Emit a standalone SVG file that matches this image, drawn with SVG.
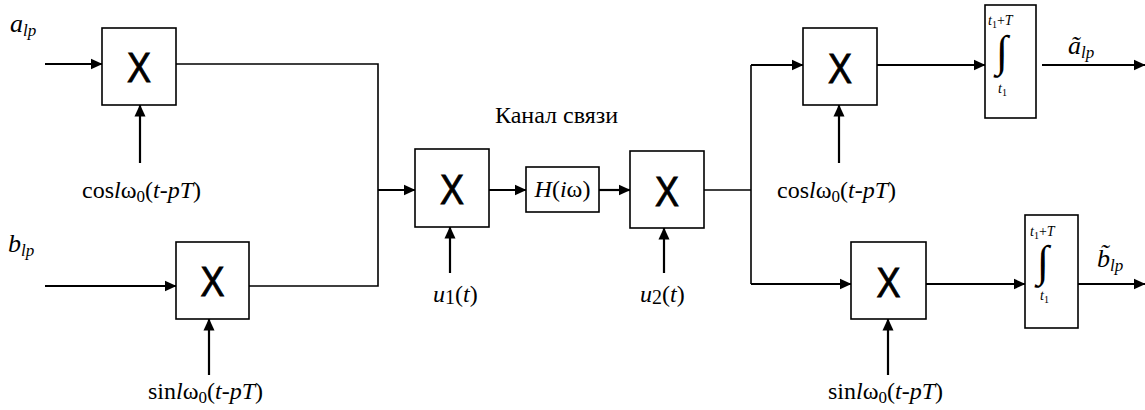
<svg xmlns="http://www.w3.org/2000/svg" width="1145" height="410" viewBox="0 0 1145 410">
<style>
.box{fill:#fff;stroke:#000;stroke-width:1.6}
.ln{fill:none;stroke:#000;stroke-width:1.6}
.ar{fill:none;stroke:#000;stroke-width:2.2;marker-end:url(#ah)}
.x{font-family:'Liberation Sans','DejaVu Sans',sans-serif;font-size:42px;text-anchor:middle;fill:#000;stroke:#000;stroke-width:0.9}
.t{font-family:'Liberation Serif','DejaVu Serif',serif;font-size:24px;fill:#000}
.lb{font-family:'Liberation Serif','DejaVu Serif',serif;font-size:26px;font-style:italic}
.i{font-style:italic}
.s{font-family:'Liberation Serif','DejaVu Serif',serif;font-size:14px}
.sub{font-size:17px}
.int{font-family:'Liberation Serif','DejaVu Serif',serif;font-size:44px;text-anchor:middle}
</style>
<defs>
<marker id="ah" viewBox="0 0 12 12" refX="11.5" refY="6" markerWidth="12" markerHeight="12" markerUnits="userSpaceOnUse" orient="auto">
<path d="M0,0.5 L12,6 L0,11.5 Z" fill="#000"/>
</marker>
</defs>
<rect width="1145" height="410" fill="#fff"/>
<g id="connectors">
<path class="ar" d="M45,64 H102"/>
<path class="ln" d="M176,64 H378 V286 H249"/>
<path class="ar" d="M378,190 H415"/>
<path class="ar" d="M140,163 V105"/>
<path class="ar" d="M45,286 H176"/>
<path class="ar" d="M209,375 V319"/>
<path class="ar" d="M489,190 H526"/>
<path class="ar" d="M599,190 H630"/>
<path class="ar" d="M450,273 V227"/>
<path class="ar" d="M664,273 V228"/>
<path class="ln" d="M704,190 H751"/>
<path class="ln" d="M751,65 V284"/>
<path class="ar" d="M751,65 H803"/>
<path class="ar" d="M751,284 H851"/>
<path class="ar" d="M839,163 V105"/>
<path class="ar" d="M877,65 H985"/>
<path class="ar" d="M1042,65 H1145"/>
<path class="ar" d="M888,375 V319"/>
<path class="ar" d="M926,284 H1025"/>
<path class="ar" d="M1072,284 H1145"/>
</g>
<g id="in-a"><text class="lb" x="10" y="32">a<tspan class="sub" dy="4">lp</tspan></text></g>
<g id="in-b"><text class="lb" x="8" y="252">b<tspan class="sub" dy="4">lp</tspan></text></g>
<g id="mul1">
<rect class="box" x="102" y="28" width="74" height="77"/>
<text class="x" x="139" y="82" textLength="24" lengthAdjust="spacingAndGlyphs">X</text>
</g>
<g id="mul2">
<rect class="box" x="176" y="242" width="73" height="77"/>
<text class="x" x="212.5" y="296" textLength="24" lengthAdjust="spacingAndGlyphs">X</text>
</g>
<g id="cos1"><text class="t" x="82" y="198">cos<tspan class="i">l</tspan>ω<tspan class="sub" dy="4">0</tspan><tspan dy="-4">(</tspan><tspan class="i">t</tspan>-<tspan class="i">pT</tspan>)</text></g>
<g id="sin1"><text class="t" x="148" y="399">sin<tspan class="i">l</tspan>ω<tspan class="sub" dy="4">0</tspan><tspan dy="-4">(</tspan><tspan class="i">t</tspan>-<tspan class="i">pT</tspan>)</text></g>
<g id="mod">
<rect class="box" x="415" y="149" width="74" height="78"/>
<text class="x" x="452" y="204" textLength="24" lengthAdjust="spacingAndGlyphs">X</text>
</g>
<g id="u1"><text class="t" x="433" y="302"><tspan class="i">u</tspan><tspan style="font-size:20px" dy="2">1</tspan><tspan dy="-2">(</tspan><tspan class="i">t</tspan>)</text></g>
<g id="label-channel"><text class="t" x="495" y="123">Канал связи</text></g>
<g id="channel">
<rect class="box" x="526" y="167" width="73" height="45"/>
<text class="t" x="562.5" y="197" text-anchor="middle"><tspan class="i">H</tspan>(<tspan class="i">i</tspan>ω)</text>
</g>
<g id="demod">
<rect class="box" x="630" y="151" width="74" height="77"/>
<text class="x" x="667" y="206" textLength="24" lengthAdjust="spacingAndGlyphs">X</text>
</g>
<g id="u2"><text class="t" x="640" y="302"><tspan class="i">u</tspan><tspan style="font-size:20px" dy="2">2</tspan><tspan dy="-2">(</tspan><tspan class="i">t</tspan>)</text></g>
<g id="mul5">
<rect class="box" x="803" y="28" width="74" height="77"/>
<text class="x" x="840" y="83" textLength="24" lengthAdjust="spacingAndGlyphs">X</text>
</g>
<g id="cos2"><text class="t" x="777" y="198">cos<tspan class="i">l</tspan>ω<tspan class="sub" dy="4">0</tspan><tspan dy="-4">(</tspan><tspan class="i">t</tspan>-<tspan class="i">pT</tspan>)</text></g>
<g id="mul6">
<rect class="box" x="851" y="242" width="75" height="77"/>
<text class="x" x="888.5" y="297" textLength="24" lengthAdjust="spacingAndGlyphs">X</text>
</g>
<g id="sin2"><text class="t" x="828" y="399">sin<tspan class="i">l</tspan>ω<tspan class="sub" dy="4">0</tspan><tspan dy="-4">(</tspan><tspan class="i">t</tspan>-<tspan class="i">pT</tspan>)</text></g>
<g id="int1">
<rect class="box" x="985" y="5" width="51" height="113"/>
<text class="s" x="988" y="25"><tspan class="i">t</tspan><tspan style="font-size:10px" dy="3">1</tspan><tspan dy="-3">+</tspan><tspan class="i">T</tspan></text>
<text class="int" x="1002" y="66">∫</text>
<text class="s" x="998" y="93"><tspan class="i">t</tspan><tspan style="font-size:10px" dy="3">1</tspan></text>
</g>
<g id="out-a"><text class="lb" x="1068" y="54">ã<tspan class="sub" dy="4">lp</tspan></text></g>
<g id="int2">
<rect class="box" x="1025" y="215" width="53" height="113"/>
<text class="s" x="1030" y="236"><tspan class="i">t</tspan><tspan style="font-size:10px" dy="3">1</tspan><tspan dy="-3">+</tspan><tspan class="i">T</tspan></text>
<text class="int" x="1043" y="276">∫</text>
<text class="s" x="1040" y="300"><tspan class="i">t</tspan><tspan style="font-size:10px" dy="3">1</tspan></text>
</g>
<g id="out-b"><text class="lb" x="1097" y="267">b̃<tspan class="sub" dy="4">lp</tspan></text></g>
</svg>
